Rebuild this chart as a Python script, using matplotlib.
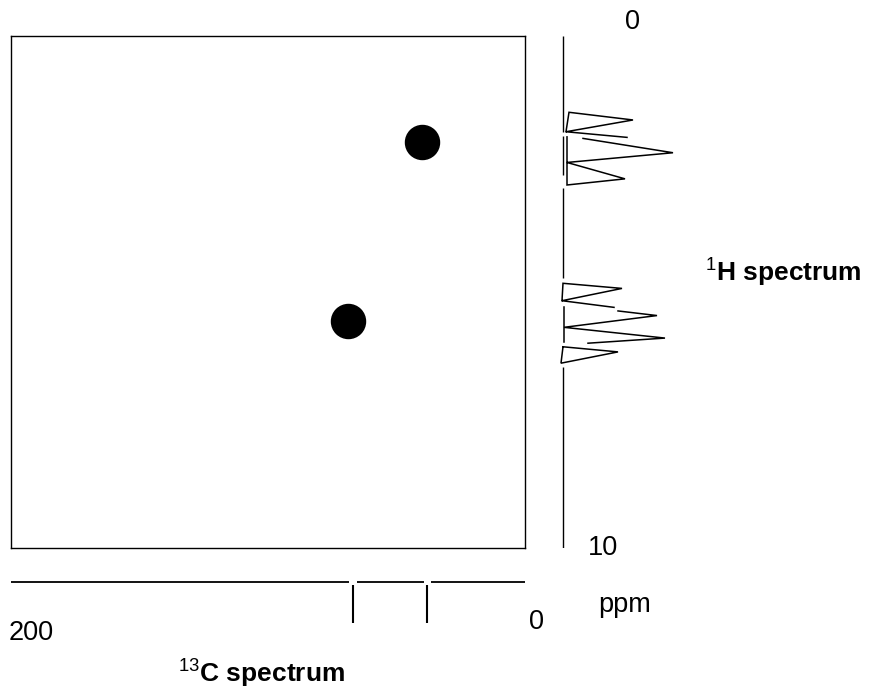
import matplotlib
matplotlib.use('Agg')
import matplotlib.pyplot as plt

plt.rcParams['font.family'] = ['Liberation Sans', 'DejaVu Sans']
plt.rcParams['mathtext.fontset'] = 'custom'
plt.rcParams['mathtext.rm'] = 'Liberation Sans'

# cross peaks (13C ppm, 1H ppm)
cross_c = [40.0, 69.0]
cross_h = [2.08, 5.57]

# 13C stick spectrum
c_peaks = [38.0, 67.0]
c_base = [(200, 68.5), (65.4, 39.3), (36.6, 0)]

# 1H spectrum drawn as line pieces: (intensity, ppm)
h_pieces = [
    ([0.3, 0.6, 7.0, 0.3, 6.4], [1.87, 1.49, 1.64, 1.87, 1.98]),
    ([2.0, 11.0, 0.4, 6.2, 0.4, 0.4], [2.00, 2.28, 2.47, 2.79, 2.91, 1.97]),
    ([-0.1, 0.0, 5.9, -0.1, 5.1], [5.17, 4.83, 4.93, 5.17, 5.30]),
    ([5.5, 9.4, 0.1, 10.2, 2.5], [5.37, 5.46, 5.69, 5.90, 6.00]),
    ([0.1, 0.1], [5.29, 5.97]),
    ([0.0, 5.5, -0.2, 0.0], [6.07, 6.17, 6.39, 6.07]),
]
h_base = [(0, 1.88), (1.96, 2.72), (2.97, 4.73), (6.46, 10)]

W, H = 874, 690
fig = plt.figure(figsize=(W / 100, H / 100), dpi=100)

def box(l, t, w, h):
    return [l / W, 1 - (t + h) / H, w / W, h / H]

# 2D map
ax = fig.add_axes(box(11, 36, 514, 512))
ax.set_xlim(200, 0)
ax.set_ylim(10, 0)
ax.plot(cross_c, cross_h, 'o', color='black', markersize=24.5)
ax.set_xticks([])
ax.set_yticks([])
for s in ax.spines.values():
    s.set_linewidth(1.0)

# 1H projection
axh = fig.add_axes(box(553, 36, 130, 512))
axh.set_xlim(-1.0, 12.0)
axh.set_ylim(10, 0)
axh.axis('off')
for y0, y1 in h_base:
    axh.plot([0, 0], [y0, y1], color='black', lw=1.0, solid_capstyle='butt')
for xs, ys in h_pieces:
    axh.plot(xs, ys, color='black', lw=1.1, solid_joinstyle='miter')

# 13C projection
axc = fig.add_axes(box(11, 572, 514, 60))
axc.set_xlim(200, 0)
axc.set_ylim(-5.0, 1.0)
axc.axis('off')
for x0, x1 in c_base:
    axc.plot([x0, x1], [0, 0], color='black', lw=1.3, solid_capstyle='butt')
for p in c_peaks:
    axc.plot([p, p], [-0.3, -4.1], color='black', lw=1.5, solid_capstyle='butt')

# labels
fs = 19.5
fig.text(632 / W, 1 - 22 / H, '0', fontsize=fs, ha='center', va='center')
fig.text(603 / W, 1 - 548 / H, '10', fontsize=fs, ha='center', va='center')
fig.text(9 / W, 1 - 633 / H, '200', fontsize=fs, ha='left', va='center')
fig.text(537 / W, 1 - 622 / H, '0', fontsize=fs, ha='center', va='center')
fig.text(625 / W, 1 - 605 / H, 'ppm', fontsize=fs, ha='center', va='center')
fig.text(705 / W, 1 - 272 / H, r'$^{1}$H spectrum', fontsize=19,
         fontweight='bold', ha='left', va='center')
fig.text(178 / W, 1 - 673 / H, r'$^{13}$C spectrum', fontsize=19,
         fontweight='bold', ha='left', va='center')

fig.savefig('out.png', dpi=100)
